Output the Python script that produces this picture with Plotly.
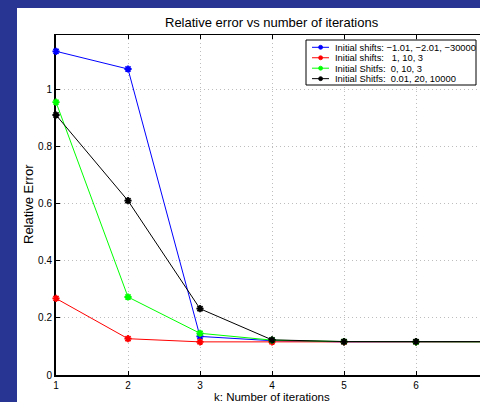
import plotly.graph_objects as go

# ---- data ----
k = [1, 2, 3, 4, 5, 6, 7]
err_blue = [1.133, 1.071, 0.135, 0.120, 0.116, 0.116, 0.116]
err_red = [0.268, 0.127, 0.116, 0.116, 0.116, 0.116, 0.116]
err_green = [0.955, 0.273, 0.146, 0.122, 0.117, 0.116, 0.116]
err_black = [0.910, 0.610, 0.232, 0.123, 0.117, 0.117, 0.117]
series_names = [
    "Initial shifts: \u22121.01, \u22122.01, \u221230000",
    "Initial shifts: \u00a0\u00a01, 10, 3",
    "Initial Shitfs: \u00a00, 10, 3",
    "Initial Shitfs: \u00a00.01, 20, 10000",
]
series_colors = ["#0000ff", "#ff0000", "#00ff00", "#000000"]
series_values = [err_blue, err_red, err_green, err_black]
x_ticks = [1, 2, 3, 4, 5, 6, 7]
y_ticks = [0, 0.2, 0.4, 0.6, 0.8, 1.0]
y_tick_text = ["0", "0.2", "0.4", "0.6", "0.8", "1"]

W, H = 480, 402
L, R, T, B = 56, 0, 35, 27
PW, PH = W - L - R, H - T - B
FONT = "Liberation Sans, Arial, Helvetica, sans-serif"


def px(xp):
    return (xp - L) / PW


def py(yp):
    return (H - B - yp) / PH


fig = go.Figure()
for name, col, vals in zip(series_names, series_colors, series_values):
    fig.add_trace(go.Scatter(
        x=k, y=vals, mode="lines+markers", name=name,
        line=dict(color=col, width=1),
        marker=dict(symbol="asterisk-open", size=6, color=col,
                    line=dict(color=col, width=1.8)),
        cliponaxis=False, showlegend=False,
    ))

shapes = []
# blue frame strips
BG = "#283593"
shapes.append(dict(type="rect", xref="paper", yref="paper", layer="below",
                   x0=px(0), x1=px(17), y0=py(H), y1=py(0),
                   fillcolor=BG, line=dict(width=0)))
shapes.append(dict(type="rect", xref="paper", yref="paper", layer="below",
                   x0=px(0), x1=px(W), y0=py(8), y1=py(0),
                   fillcolor=BG, line=dict(width=0)))

annotations = []
# custom legend
lx0, lx1, ly0, ly1 = 306, 476, 40, 85
shapes.append(dict(type="rect", xref="paper", yref="paper", layer="above",
                   x0=px(lx0), x1=px(lx1), y0=py(ly1), y1=py(ly0),
                   fillcolor="white", line=dict(color="black", width=1)))
for i, (name, col) in enumerate(zip(series_names, series_colors)):
    yc = 47.3 + i * 10.45
    shapes.append(dict(type="line", xref="paper", yref="paper", layer="above",
                       x0=px(312), x1=px(329), y0=py(yc), y1=py(yc),
                       line=dict(color=col, width=1)))
    shapes.append(dict(type="circle", xref="paper", yref="paper", layer="above",
                       x0=px(318.6), x1=px(322.6), y0=py(yc + 2), y1=py(yc - 2),
                       fillcolor=col, line=dict(color=col, width=0.8)))
    annotations.append(dict(text=name, xref="paper", yref="paper",
                            x=px(333), y=py(yc), xanchor="left", yanchor="middle",
                            showarrow=False, font=dict(size=9.4, color="black", family=FONT)))

# titles
annotations.append(dict(text="Relative error vs number of iterations", xref="paper", yref="paper",
                        x=px(272), y=py(22.7), xanchor="center", yanchor="middle",
                        showarrow=False, font=dict(size=13, color="black", family=FONT)))
annotations.append(dict(text="k: Number of iterations", xref="paper", yref="paper",
                        x=px(272), y=py(396.5), xanchor="center", yanchor="middle",
                        showarrow=False, font=dict(size=11.5, color="black", family=FONT)))
annotations.append(dict(text="Relative Error", xref="paper", yref="paper",
                        x=px(28.5), y=py(204.5), xanchor="center", yanchor="middle", textangle=-90,
                        showarrow=False, font=dict(size=13, color="black", family=FONT)))

x_end = 1 + (W - L) / 72.0
GRID = "#bdbdbd"
GDASH = "1px,3px"

fig.update_layout(
    width=W, height=H,
    margin=dict(l=L, r=R, t=T, b=B, pad=0),
    paper_bgcolor="white", plot_bgcolor="white",
    font=dict(family=FONT, size=10, color="black"),
    shapes=shapes, annotations=annotations,
    showlegend=False,
    xaxis=dict(range=[1, x_end], tickvals=x_ticks, ticktext=[str(v) for v in x_ticks],
               ticks="inside", ticklen=4, tickwidth=1, tickcolor="black",
               showline=True, linecolor="black", linewidth=2,
               showgrid=True, gridcolor=GRID, griddash=GDASH, gridwidth=1,
               zeroline=False, layer="below traces",
               tickfont=dict(size=10, color="black", family=FONT)),
    xaxis2=dict(range=[1, x_end], overlaying="x", side="top", tickvals=x_ticks,
                showticklabels=False, ticks="inside", ticklen=4, tickcolor="black",
                showline=True, linecolor="black", linewidth=1, showgrid=False,
                zeroline=False, layer="below traces"),
    yaxis=dict(range=[0, 1.19], tickvals=y_ticks, ticktext=y_tick_text,
               ticks="inside", ticklen=4, tickwidth=1, tickcolor="black",
               showline=True, linecolor="black", linewidth=2,
               showgrid=True, gridcolor=GRID, griddash=GDASH, gridwidth=1,
               zeroline=False, layer="below traces",
               tickfont=dict(size=10, color="black", family=FONT)),
)
# invisible trace to keep the top axis alive
fig.add_trace(go.Scatter(x=[1], y=[0], xaxis="x2", mode="markers",
                         marker=dict(opacity=0), showlegend=False, hoverinfo="skip"))

fig.write_html("out.html")
